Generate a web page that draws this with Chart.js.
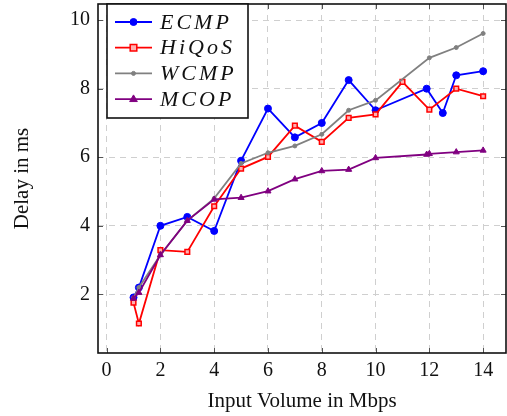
<!DOCTYPE html>
<html>
<head>
<meta charset="utf-8">
<script src="https://cdn.jsdelivr.net/npm/chart.js@4.4.1/dist/chart.umd.min.js"></script>
<style>
  body { margin: 0; background: #fff; }
</style>
</head>
<body>
<canvas id="myChart" width="507" height="416"></canvas>
<script>
// delay (ms) against input volume (Mbps)
var ecmpX  = [1, 1.2, 2, 3, 4, 5, 6, 7, 8, 9, 10, 11.9, 12.5, 13, 14];
var ecmpY  = [1.91, 2.2, 4.0, 4.26, 3.85, 5.9, 7.42, 6.58, 7.0, 8.25, 7.37, 8.0, 7.29, 8.39, 8.51];
var hiqosX = [1, 1.2, 2, 3, 4, 5, 6, 7, 8, 9, 10, 11, 12, 13, 14];
var hiqosY = [1.76, 1.15, 3.29, 3.24, 4.57, 5.67, 6.01, 6.92, 6.45, 7.15, 7.25, 8.2, 7.39, 8.0, 7.78];
var wcmpX  = [1, 1.2, 2, 3, 4, 5, 6, 7, 8, 9, 10, 12, 13, 14];
var wcmpY  = [1.9, 2.2, 3.15, 4.15, 4.8, 5.82, 6.13, 6.33, 6.67, 7.37, 7.66, 8.9, 9.2, 9.61];
var mcopX  = [1, 1.2, 2, 3, 4, 5, 6, 7, 8, 9, 10, 11.9, 12, 13, 14];
var mcopY  = [1.88, 2.05, 3.15, 4.15, 4.77, 4.82, 5.01, 5.36, 5.6, 5.64, 5.98, 6.08, 6.1, 6.15, 6.2];

var seriesNames = ["ECMP", "HiQoS", "WCMP", "MCOP"];
var xTicks = [0, 2, 4, 6, 8, 10, 12, 14];
var yTicks = [2, 4, 6, 8, 10];

var serif = "'Liberation Serif', 'DejaVu Serif', serif";

function pts(xs, ys) {
  return xs.map(function (x, i) { return { x: x, y: ys[i] }; });
}

// black frame + little inward tick marks like pgfplots
var framePlugin = {
  id: 'frame',
  afterDatasetsDraw: function (chart) {
    var ctx = chart.ctx, a = chart.chartArea;
    var xs = chart.scales.x, ys = chart.scales.y;
    ctx.save();
    ctx.strokeStyle = '#555';
    ctx.lineWidth = 1;
    ctx.beginPath();
    xTicks.forEach(function (v) {
      var px = Math.round(xs.getPixelForValue(v)) + 0.5;
      ctx.moveTo(px, a.bottom); ctx.lineTo(px, a.bottom - 5);
      ctx.moveTo(px, a.top); ctx.lineTo(px, a.top + 5);
    });
    yTicks.forEach(function (v) {
      var py = Math.round(ys.getPixelForValue(v)) + 0.5;
      ctx.moveTo(a.left, py); ctx.lineTo(a.left + 5, py);
      ctx.moveTo(a.right, py); ctx.lineTo(a.right - 5, py);
    });
    ctx.stroke();
    ctx.strokeStyle = '#111';
    ctx.lineWidth = 1.6;
    ctx.strokeRect(a.left, a.top, a.right - a.left, a.bottom - a.top);
    ctx.restore();
  }
};

function drawMarker(ctx, style, r, x, y) {
  ctx.beginPath();
  if (style === 'rect') {
    ctx.rect(x - r, y - r, 2 * r, 2 * r);
  } else if (style === 'triangle') {
    ctx.moveTo(x, y - r * 1.2);
    ctx.lineTo(x + r * 1.1, y + r * 0.7);
    ctx.lineTo(x - r * 1.1, y + r * 0.7);
    ctx.closePath();
  } else {
    ctx.arc(x, y, r, 0, Math.PI * 2);
  }
  ctx.fill();
  ctx.stroke();
}

// legend box in the top-left corner of the plot
var legendPlugin = {
  id: 'boxLegend',
  afterDraw: function (chart) {
    var ctx = chart.ctx;
    var bx = 107, by = chart.chartArea.top, bw = 141, bh = 118 - by;
    ctx.save();
    ctx.fillStyle = '#fff';
    ctx.fillRect(bx, by, bw, bh);
    ctx.strokeStyle = '#111';
    ctx.lineWidth = 1.6;
    ctx.strokeRect(bx, by, bw, bh);
    chart.data.datasets.forEach(function (ds, i) {
      var y = 22 + i * 25.7;
      ctx.strokeStyle = ds.borderColor;
      ctx.lineWidth = ds.borderWidth;
      ctx.beginPath();
      ctx.moveTo(115, y); ctx.lineTo(152, y);
      ctx.stroke();
      ctx.fillStyle = ds.pointBackgroundColor;
      ctx.lineWidth = ds.pointBorderWidth;
      drawMarker(ctx, ds.pointStyle, ds.pointRadius, 133.5, y);
      ctx.fillStyle = '#111';
      ctx.font = "italic 22px " + serif;
      ctx.letterSpacing = '3px';
      ctx.textBaseline = 'middle';
      ctx.fillText(seriesNames[i], 160, y + 1);
    });
    ctx.restore();
  }
};

var ctx = document.getElementById("myChart").getContext("2d");

var myChart = new Chart(ctx, {
  type: "line",
  data: {
    datasets: [
      {
        label: seriesNames[0],
        data: pts(ecmpX, ecmpY),
        borderColor: "#0000ff",
        backgroundColor: "#0000ff",
        pointBackgroundColor: "#0000ff",
        borderWidth: 1.8,
        pointStyle: "circle",
        pointRadius: 3.5,
        pointBorderWidth: 1,
        order: 4
      },
      {
        label: seriesNames[1],
        data: pts(hiqosX, hiqosY),
        borderColor: "#ff0000",
        backgroundColor: "#ff0000",
        pointBackgroundColor: "#ffb0b0",
        borderWidth: 1.8,
        pointStyle: "rect",
        pointRadius: 3.3,
        pointBorderWidth: 1.5,
        order: 3
      },
      {
        label: seriesNames[2],
        data: pts(wcmpX, wcmpY),
        borderColor: "#808080",
        backgroundColor: "#808080",
        pointBackgroundColor: "#808080",
        borderWidth: 1.8,
        pointStyle: "circle",
        pointRadius: 2,
        pointBorderWidth: 1,
        order: 2
      },
      {
        label: seriesNames[3],
        data: pts(mcopX, mcopY),
        borderColor: "#800080",
        backgroundColor: "#800080",
        pointBackgroundColor: "#800080",
        borderWidth: 1.8,
        pointStyle: "triangle",
        pointRadius: 3.5,
        pointBorderWidth: 1,
        order: 1
      }
    ]
  },
  options: {
    responsive: false,
    animation: false,
    layout: { autoPadding: false, padding: { left: 0, right: 1, top: 4, bottom: 0 } },
    plugins: {
      legend: { display: false },
      tooltip: { enabled: false }
    },
    scales: {
      x: {
        type: "linear",
        min: -0.32,
        max: 14.85,
        afterBuildTicks: function (s) { s.ticks = xTicks.map(function (v) { return { value: v }; }); },
        afterFit: function (s) { s.height = 63; s.paddingLeft = 0; s.paddingRight = 0; },
        grid: { color: "#cfcfcf", lineWidth: 1, drawTicks: false },
        border: { display: false, dash: [6, 5] },
        ticks: { color: "#111", padding: 6, maxRotation: 0, font: { family: serif, size: 20 } },
        title: {
          display: true,
          text: "Input Volume in Mbps",
          color: "#111",
          font: { family: serif, size: 21 },
          padding: { top: 0, bottom: 2 }
        }
      },
      y: {
        min: 0.29,
        max: 10.47,
        afterBuildTicks: function (s) { s.ticks = yTicks.map(function (v) { return { value: v }; }); },
        afterFit: function (s) { s.width = 98; s.paddingTop = 0; s.paddingBottom = 0; },
        grid: { color: "#cfcfcf", lineWidth: 1, drawTicks: false },
        border: { display: false, dash: [6, 5] },
        ticks: { color: "#111", padding: 8, font: { family: serif, size: 20 } },
        title: {
          display: true,
          text: "Delay in ms",
          color: "#111",
          font: { family: serif, size: 21 },
          padding: { top: 10, bottom: 0 }
        }
      }
    }
  },
  plugins: [framePlugin, legendPlugin]
});
</script>
</body>
</html>
